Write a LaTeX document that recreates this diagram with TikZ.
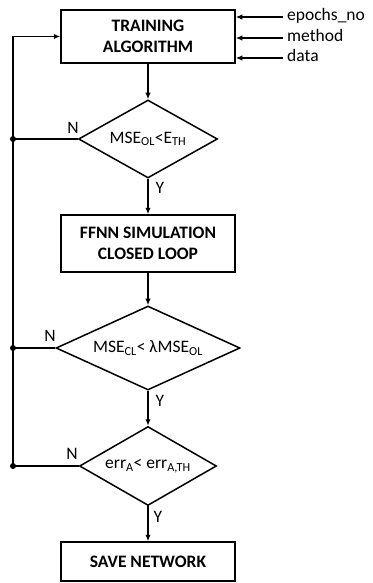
\documentclass[tikz,border=0pt]{standalone}
\usepackage{fontspec}
\setmainfont{Carlito}
\usetikzlibrary{shapes.geometric,arrows.meta}

\tikzset{
  block/.style={draw, line width=1.5pt, minimum width=174pt, align=center,
    font=\bfseries\fontsize{17.5}{21}\selectfont},
  test/.style={draw, diamond, line width=1.5pt, inner sep=0pt, aspect=2,
    font=\fontsize{17.5}{21}\selectfont},
  flow/.style={line width=1.5pt, -{Latex[length=6.5pt,width=5.5pt]}},
  wire/.style={line width=1.5pt},
  junction/.style={circle, fill, inner sep=0pt, minimum size=6pt},
  tag/.style={font=\fontsize{17.5}{21}\selectfont, inner sep=0pt},
}

\begin{document}
\begin{tikzpicture}[x=1pt, y=-1pt]
    \useasboundingbox (0, 0) rectangle (372, 583);
    % process blocks
    \node [block, minimum height=53pt] (train) at (148, 36.5) {TRAINING\\ALGORITHM};
    \node [block, minimum height=57pt] (sim) at (148, 243.5) {FFNN SIMULATION\\CLOSED LOOP};
    \node [block, minimum height=39pt] (save) at (148, 561.5) {SAVE NETWORK};
    % decisions
    \node [test, minimum width=139pt, minimum height=78pt] (mseol) at (148, 139)
        {MSE\textsubscript{OL}<E\textsubscript{TH}};
    \node [test, minimum width=184pt, minimum height=84pt] (msecl) at (148, 348)
        {MSE\textsubscript{CL}< λMSE\textsubscript{OL}};
    \node [test, minimum width=137pt, minimum height=79pt] (err) at (148, 466)
        {err\textsubscript{A}< err\textsubscript{A,TH}};
    % main flow
    \draw [flow] (train) -- (mseol);
    \draw [flow] (mseol) -- (sim);
    \draw [flow] (sim) -- (msecl);
    \draw [flow] (msecl) -- (err);
    \draw [flow] (err) -- (save);
    % yes labels
    \node [tag] (y1) at (160, 188) {Y};
    \node [tag] (y2) at (160, 401) {Y};
    \node [tag] (y3) at (158, 517) {Y};
    % no branches back to the training block
    \node [junction] (j1) at (13, 139) {};
    \node [junction] (j2) at (13, 348) {};
    \node [junction] (j3) at (13, 466) {};
    \draw [wire] (mseol.west) -- (j1.center);
    \draw [wire] (msecl.west) -- (j2.center);
    \draw [wire] (err.west) -- (j3.center);
    \draw [flow] (j3.center) |- (train.west);
    \node [tag] (n1) at (73, 128) {N};
    \node [tag] (n2) at (50, 336) {N};
    \node [tag] (n3) at (72, 454) {N};
    % inputs
    \foreach \name/\ypos/\txt in {epochs/17/epochs\_no, method/38/method, data/58/data} {
        \coordinate (\name) at (283, \ypos);
        \node [tag, anchor=base west] (\name-lbl) at (287, \ypos+3.5) {\txt};
        \draw [flow] (\name) -- (\name -| train.east);
    }
\end{tikzpicture}
\end{document}
